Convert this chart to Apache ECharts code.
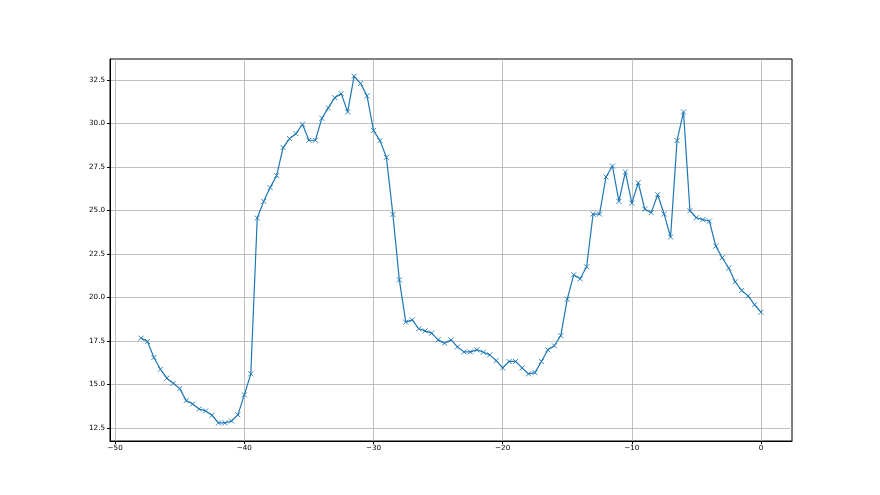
<!DOCTYPE html>
<html>
<head>
<meta charset="utf-8">
<script src="https://cdn.jsdelivr.net/npm/echarts@6/dist/echarts.min.js"></script>
<style>html,body{margin:0;padding:0;background:#fff}#c{width:880px;height:495px}</style>
</head>
<body>
<div id="c"></div>
<script>
var xValues = [-48,-47.5,-47,-46.5,-46,-45.5,-45,-44.5,-44,-43.5,-43,-42.5,-42,-41.5,-41,-40.5,-40,-39.5,-39,-38.5,-38,-37.5,-37,-36.5,-36,-35.5,-35,-34.5,-34,-33.5,-33,-32.5,-32,-31.5,-31,-30.5,-30,-29.5,-29,-28.5,-28,-27.5,-27,-26.5,-26,-25.5,-25,-24.5,-24,-23.5,-23,-22.5,-22,-21.5,-21,-20.5,-20,-19.5,-19,-18.5,-18,-17.5,-17,-16.5,-16,-15.5,-15,-14.5,-14,-13.5,-13,-12.5,-12,-11.5,-11,-10.5,-10,-9.5,-9,-8.5,-8,-7.5,-7,-6.5,-6,-5.5,-5,-4.5,-4,-3.5,-3,-2.5,-2,-1.5,-1,-0.5,0];
var yValues = [17.66,17.47,16.55,15.87,15.36,15.07,14.76,14.07,13.88,13.59,13.48,13.23,12.79,12.79,12.90,13.25,14.40,15.61,24.56,25.52,26.31,27.00,28.61,29.13,29.41,29.95,29.03,29.03,30.29,30.89,31.48,31.71,30.66,32.71,32.29,31.58,29.60,29.01,28.05,24.77,21.01,18.58,18.71,18.20,18.08,17.95,17.56,17.37,17.56,17.16,16.87,16.87,16.99,16.85,16.70,16.37,15.95,16.32,16.32,15.95,15.61,15.68,16.32,16.99,17.22,17.81,19.90,21.30,21.07,21.76,24.79,24.79,26.92,27.55,25.52,27.21,25.42,26.59,25.08,24.87,25.90,24.79,23.47,29.01,30.66,24.98,24.58,24.47,24.39,22.95,22.28,21.69,20.90,20.40,20.09,19.58,19.15];
var xTicks = [-50,-40,-30,-20,-10,0];
var yTicks = [12.5,15.0,17.5,20.0,22.5,25.0,27.5,30.0,32.5];

var pts = xValues.map(function(x,i){return [x,yValues[i]];});
var chart = echarts.init(document.getElementById('c'), null, {renderer:'canvas'});
var lab = {color:'#000', fontSize:7.2, fontFamily:'DejaVu Sans'};
chart.setOption({
  animation:false,
  backgroundColor:'#fff',
  grid:{left:110, right:88, top:59, bottom:54, show:true, borderColor:'#000', borderWidth:1, containLabel:false},
  xAxis:{type:'value', min:-50.4, max:2.4,
    axisLine:{show:true, onZero:false, lineStyle:{color:'#000', width:1}},
    axisTick:{show:true, length:3, customValues:xTicks, lineStyle:{color:'#000'}},
    axisLabel:Object.assign({customValues:xTicks, margin:4, formatter:function(v){return v<0?'\u2212'+Math.abs(v):String(v);}}, lab),
    splitLine:{show:true, lineStyle:{color:'#b0b0b0', width:0.8}}
  },
  yAxis:{type:'value', min:11.75, max:33.7,
    axisLine:{show:true, onZero:false, lineStyle:{color:'#000', width:1}},
    axisTick:{show:true, length:3, customValues:yTicks, lineStyle:{color:'#000'}},
    axisLabel:Object.assign({customValues:yTicks, margin:5, formatter:function(v){return v.toFixed(1);}}, lab),
    splitLine:{show:true, lineStyle:{color:'#b0b0b0', width:0.8}}
  },
  series:[{type:'line', data:pts, showSymbol:true, symbol:'path://M0,0L10,10M10,0L0,10', symbolSize:5,
    lineStyle:{color:'#1f77b4', width:1.2},
    itemStyle:{color:'#1f77b4', borderColor:'#1f77b4', borderWidth:0.9}
  }]
});
</script>
</body>
</html>
